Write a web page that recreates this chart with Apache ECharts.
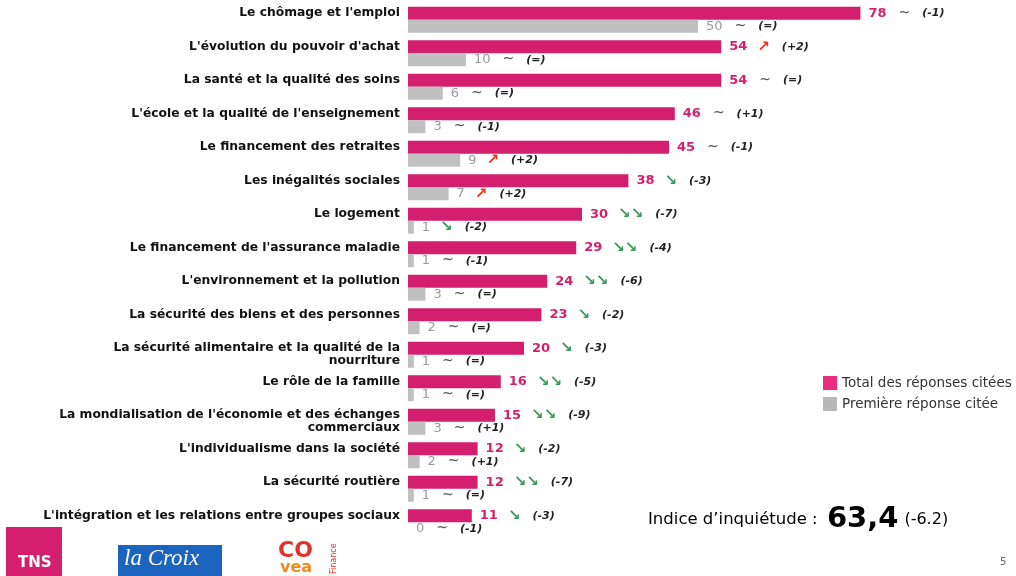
<!DOCTYPE html>
<html>
<head>
<meta charset="utf-8">
<script src="https://cdn.jsdelivr.net/npm/echarts/dist/echarts.min.js"></script>
<style>
  html, body { margin: 0; padding: 0; background: #fff; }
  #main { width: 1016px; height: 576px; }
</style>
</head>
<body>
<div id="main"></div>
<script>
// thèmes de préoccupation
var categories = [
    "Le chômage et l'emploi",
    "L'évolution du pouvoir d'achat",
    "La santé et la qualité des soins",
    "L'école et la qualité de l'enseignement",
    "Le financement des retraites",
    "Les inégalités sociales",
    "Le logement",
    "Le financement de l'assurance maladie",
    "L'environnement et la pollution",
    "La sécurité des biens et des personnes",
    "La sécurité alimentaire et la qualité de la\nnourriture",
    "Le rôle de la famille",
    "La mondialisation de l'économie et des échanges\ncommerciaux",
    "L'individualisme dans la société",
    "La sécurité routière",
    "L'intégration et les relations entre groupes sociaux"
];

// Total des réponses citées
var totalValues = [78, 54, 54, 46, 45, 38, 30, 29, 24, 23, 20, 16, 15, 12, 12, 11];
var totalTrend = ['eq', 'up', 'eq', 'eq', 'eq', 'down', 'down2', 'down2', 'down2', 'down', 'down', 'down2', 'down2', 'down', 'down2', 'down'];
var totalDelta = ['-1', '+2', '=', '+1', '-1', '-3', '-7', '-4', '-6', '-2', '-3', '-5', '-9', '-2', '-7', '-3'];

// Première réponse citée
var firstValues = [50, 10, 6, 3, 9, 7, 1, 1, 3, 2, 1, 1, 3, 2, 1, 0];
var firstTrend = ['eq', 'eq', 'eq', 'eq', 'up', 'up', 'down', 'eq', 'eq', 'eq', 'eq', 'eq', 'eq', 'eq', 'eq', 'eq'];
var firstDelta = ['=', '=', '=', '-1', '+2', '+2', '-2', '-1', '=', '=', '=', '=', '+1', '+1', '=', '-1'];

// indice d'inquiétude
var indice = '63,4';
var indiceDelta = '-6.2';

var PINK = '#d41f6e';
var GREY = '#c0c0c0';

var trendText = { eq: '{eq|~}', up: '{up|↗}', down: '{dn|↘}', down2: '{dn|↘↘}' };

var richBase = {
    eq: { color: '#555', fontSize: 14, fontFamily: 'DejaVu Sans', padding: [0, 0, 0, 12] },
    up: { color: '#e8341c', fontSize: 15, fontWeight: 'bold', fontFamily: 'DejaVu Sans', padding: [0, 0, 0, 10] },
    dn: { color: '#3a9a5a', fontSize: 15, fontWeight: 'bold', fontFamily: 'DejaVu Sans', padding: [0, 0, 0, 10] },
    d: { color: '#222', fontSize: 11, fontWeight: 'bold', fontStyle: 'italic', fontFamily: 'DejaVu Sans', padding: [0, 0, 0, 12] }
};

function makeRich(valueStyle) {
    var r = {};
    for (var k in richBase) r[k] = richBase[k];
    r.v = valueStyle;
    return r;
}

var chart = echarts.init(document.getElementById('main'));

chart.setOption({
    animation: false,
    textStyle: { fontFamily: 'DejaVu Sans' },
    grid: { left: 408, right: 28, top: 3, bottom: 37 },
    legend: {
        orient: 'vertical',
        left: 818,
        top: 371,
        itemWidth: 14,
        itemHeight: 14,
        itemGap: 7,
        icon: 'rect',
        textStyle: { fontSize: 13.5, color: '#333', fontFamily: 'DejaVu Sans' },
        data: [
            { name: 'Total des réponses citées', itemStyle: { color: '#ec2a80' } },
            { name: 'Première réponse citée', itemStyle: { color: '#b8b8b8' } }
        ]
    },
    xAxis: {
        type: 'value',
        min: 0,
        max: 100,
        show: false
    },
    yAxis: {
        type: 'category',
        inverse: true,
        data: categories,
        axisLine: { show: false },
        axisTick: { show: false },
        axisLabel: {
            margin: 8,
            fontSize: 12.3,
            fontWeight: 'bold',
            color: '#111',
            lineHeight: 13,
            fontFamily: 'DejaVu Sans',
            // libellés d'une ligne alignés sur la barre rose
            formatter: function (v) {
                return v.indexOf('\n') < 0 ? v + '\n ' : v;
            }
        }
    },
    series: [
        {
            name: 'Total des réponses citées',
            type: 'bar',
            data: totalValues,
            barWidth: 13,
            barGap: '0%',
            itemStyle: { color: PINK },
            label: {
                show: true,
                position: 'right',
                distance: 8,
                formatter: function (p) {
                    var i = p.dataIndex;
                    return '{v|' + totalValues[i] + '}' + trendText[totalTrend[i]] + '{d|(' + totalDelta[i] + ')}';
                },
                rich: makeRich({ color: PINK, fontSize: 13, fontWeight: 'bold', fontFamily: 'DejaVu Sans' })
            }
        },
        {
            name: 'Première réponse citée',
            type: 'bar',
            data: firstValues,
            barWidth: 13,
            barGap: '0%',
            itemStyle: { color: GREY },
            label: {
                show: true,
                position: 'right',
                distance: 8,
                formatter: function (p) {
                    var i = p.dataIndex;
                    return '{v|' + firstValues[i] + '}' + trendText[firstTrend[i]] + '{d|(' + firstDelta[i] + ')}';
                },
                rich: makeRich({ color: '#999', fontSize: 13, fontFamily: 'DejaVu Sans' })
            }
        }
    ],
    graphic: [
        {
            type: 'text',
            left: 648,
            top: 505,
            style: {
                text: '{a|Indice d’inquiétude : }{b|' + indice + '}{c|(' + indiceDelta + ')}',
                rich: {
                    a: { fontSize: 16.5, color: '#222', fontFamily: 'DejaVu Sans', padding: [0, 4, 0, 0] },
                    b: { fontSize: 29, fontWeight: 'bold', color: '#111', fontFamily: 'DejaVu Sans' },
                    c: { fontSize: 16, color: '#e04040', fontFamily: 'DejaVu Sans', padding: [0, 0, 0, 6] }
                }
            }
        },
        // logos en pied de page
        { type: 'rect', shape: { x: 6, y: 527, width: 56, height: 49 }, style: { fill: PINK } },
        { type: 'text', left: 18, top: 556, style: { text: 'TNS', fill: '#fff', fontSize: 15, fontWeight: 'bold', fontFamily: 'DejaVu Sans' } },
        { type: 'rect', shape: { x: 118, y: 545, width: 104, height: 31 }, style: { fill: '#1b64c0' } },
        { type: 'text', left: 124, top: 547, style: { text: 'la Croix', fill: '#fff', fontSize: 23, fontStyle: 'italic', fontFamily: 'Liberation Serif' } },
        { type: 'text', left: 278, top: 540, style: { text: 'CO', fill: '#e4302a', fontSize: 22, fontWeight: 'bold', fontFamily: 'DejaVu Sans' } },
        { type: 'text', left: 280, top: 560, style: { text: 'vea', fill: '#f08a1c', fontSize: 16, fontWeight: 'bold', fontFamily: 'DejaVu Sans' } },
        { type: 'text', x: 330, y: 574, rotation: Math.PI / 2, style: { text: 'Finance', fill: '#e4302a', fontSize: 8, fontFamily: 'DejaVu Sans' } },
        { type: 'text', left: 1000, top: 557, style: { text: '5', fill: '#666', fontSize: 10, fontFamily: 'DejaVu Sans' } }
    ]
});
</script>
</body>
</html>
